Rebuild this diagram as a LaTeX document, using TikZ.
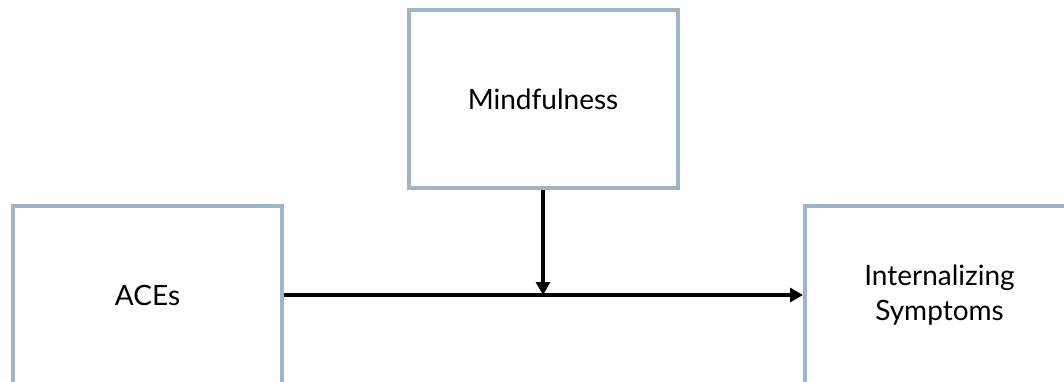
\documentclass[tikz,border=0pt]{standalone}
\usepackage{fontspec}
\setmainfont{Lato}
\usetikzlibrary{arrows.meta,positioning,calc}
\definecolor{boxline}{RGB}{157,181,199}

\begin{document}
\begin{tikzpicture}[x=1pt,y=-1pt,
    var/.style={rectangle,draw=boxline,line width=4pt,minimum width=269pt,minimum height=178pt,align=center,font=\fontsize{28}{35}\selectfont},
    path/.style={line width=3.5pt,-{Triangle[length=13pt,width=14pt]}}]
    \useasboundingbox (0,0) rectangle (1064,381);
    \clip (0,0) rectangle (1064,381);
    \node[var](mind) at (543,99){Mindfulness};
    \node[var](aces) at (147.5,295){ACEs};
    \node[var](symp) at (939.5,295){Internalizing\\Symptoms};
    \path(aces)[path]edge(symp);
    \path(mind.south)[path]edge(mind.south |- aces);
\end{tikzpicture}
\end{document}
